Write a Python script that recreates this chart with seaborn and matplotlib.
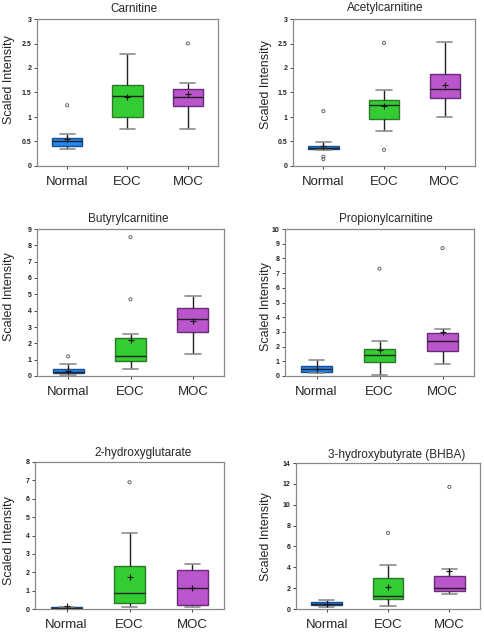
import numpy as np
import pandas as pd
import matplotlib
matplotlib.use("Agg")
import matplotlib.pyplot as plt
import seaborn as sns

sns.set_style("white")
plt.rcParams['font.family'] = ['Liberation Sans', 'DejaVu Sans']

groups = ["Normal", "EOC", "MOC"]

titles = ["Carnitine", "Acetylcarnitine", "Butyrylcarnitine",
          "Propionylcarnitine", "2-hydroxyglutarate", "3-hydroxybutyrate (BHBA)"]

# five-number summaries per group: [low whisker, Q1, median, Q3, high whisker]
carnitine = [[0.34, 0.40, 0.50, 0.58, 0.66],
             [0.75, 1.00, 1.42, 1.65, 2.29],
             [0.76, 1.22, 1.40, 1.57, 1.69]]
acetyl = [[0.33, 0.34, 0.37, 0.41, 0.48],
          [0.71, 0.95, 1.24, 1.34, 1.56],
          [1.00, 1.39, 1.58, 1.87, 2.54]]
butyryl = [[0.05, 0.18, 0.27, 0.40, 0.75],
           [0.45, 0.92, 1.25, 2.35, 2.55],
           [1.35, 2.70, 3.50, 4.15, 4.92]]
propionyl = [[0.20, 0.30, 0.45, 0.65, 1.10],
             [0.10, 0.95, 1.45, 1.85, 2.40],
             [0.85, 1.70, 2.40, 2.95, 3.20]]
hydroxyglut = [[0.02, 0.06, 0.08, 0.10, 0.11],
               [0.10, 0.30, 0.85, 2.32, 4.15],
               [0.10, 0.20, 1.15, 2.10, 2.45]]
bhba = [[0.20, 0.35, 0.45, 0.65, 0.90],
        [0.30, 1.00, 1.20, 3.00, 4.20],
        [1.45, 1.70, 2.00, 3.20, 3.85]]

means = [[0.55, 1.40, 1.46],
         [0.40, 1.22, 1.66],
         [0.33, 2.20, 3.35],
         [0.50, 1.80, 3.00],
         [0.15, 1.72, 1.15],
         [0.45, 2.15, 3.60]]

outliers = [[("Normal", 1.24), ("MOC", 2.50)],
            [("Normal", 0.19), ("Normal", 0.14), ("Normal", 1.12), ("EOC", 0.33), ("EOC", 2.51)],
            [("Normal", 1.20), ("EOC", 4.70), ("EOC", 8.50)],
            [("EOC", 7.30), ("MOC", 8.70)],
            [("EOC", 6.90)],
            [("EOC", 7.30), ("MOC", 11.70)]]

ymax = [3, 3, 9, 10, 8, 14]
ystep = [0.5, 0.5, 1, 1, 1, 2]

fill_colors = ["#2288EE", "#33CC33", "#BB55CC"]
edge_colors = ["#1B4E8C", "#2A7A2A", "#6A2C78"]

summaries = [carnitine, acetyl, butyryl, propionyl, hydroxyglut, bhba]

# axes rectangles in pixels: left, right, top, bottom
rects = [(37, 218, 19, 166), (293, 475, 19, 166),
         (37, 224, 229, 376), (285, 474, 229, 376),
         (35, 224, 462, 609), (296, 480, 463, 609)]
title_pos = [(134, 9), (385, 8), (128, 219), (386, 219), (143, 453), (397, 455)]
ylab_pos = [(9, 80), (266, 85), (9, 297), (266, 307), (9, 541), (266, 537)]

W, H = 484, 634
fig = plt.figure(figsize=(W / 100, H / 100), dpi=100)

for i in range(6):
    L, R, T, B = rects[i]
    ax = fig.add_axes([L / W, 1 - B / H, (R - L) / W, (B - T) / H])
    rows = []
    for g, s in zip(groups, summaries[i]):
        for v in s:
            rows.append({"group": g, "value": v})
    df = pd.DataFrame(rows)
    sns.boxplot(data=df, x="group", y="value", hue="group", order=groups,
                hue_order=groups, palette=fill_colors, saturation=1,
                whis=(0, 100), width=0.5, legend=False, ax=ax, linewidth=1.0,
                showfliers=False,
                whiskerprops=dict(color="#222222", linewidth=1.0),
                capprops=dict(color="#8c8c8c", linewidth=1.2),
                medianprops=dict(color="#222222", linewidth=1.0))
    for p, ec in zip(ax.patches, edge_colors):
        p.set_edgecolor(ec)
    # means
    mdf = pd.DataFrame({"group": groups, "value": means[i]})
    sns.scatterplot(data=mdf, x="group", y="value", marker="+", color="#111111",
                    s=16, linewidth=0.8, ax=ax, zorder=5)
    # outliers
    if outliers[i]:
        odf = pd.DataFrame(outliers[i], columns=["group", "value"])
        sns.scatterplot(data=odf, x="group", y="value", marker="o",
                        facecolor="none", edgecolor="#666666", s=5,
                        linewidth=0.7, ax=ax, zorder=5)
    ax.set_xlim(-0.5, 2.5)
    ax.set_ylim(0, ymax[i])
    ticks = np.arange(0, ymax[i] + 1e-9, ystep[i])
    ax.set_yticks(ticks)
    ax.set_yticklabels([("%g" % t) for t in ticks], fontsize=5, fontweight="bold")
    ax.set_xticks(range(3))
    ax.set_xticklabels(groups, fontsize=9.5)
    ax.tick_params(axis="y", length=2.5, width=0.6, pad=1.5, left=True, colors="#222222")
    ax.tick_params(axis="x", length=2, width=0.6, pad=5, bottom=True)
    for sp in ax.spines.values():
        sp.set_color("#888888")
        sp.set_linewidth(0.9)
        sp.set_visible(True)
    ax.set_xlabel("")
    ax.set_ylabel("Scaled Intensity", fontsize=9, va="center")
    lx, ly = ylab_pos[i]
    ax.yaxis.set_label_coords((lx - L) / (R - L), (B - ly) / (B - T))
    tx, ty = title_pos[i]
    fig.text(tx / W, 1 - ty / H, titles[i], ha="center", va="center", fontsize=8.5)

fig.savefig("out.png", dpi=100)
